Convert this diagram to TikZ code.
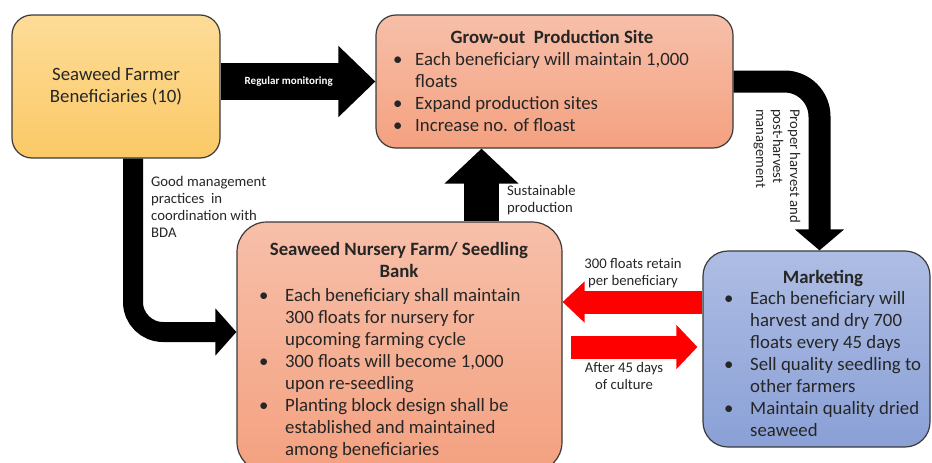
\documentclass[tikz,border=0pt]{standalone}
\usepackage{fontspec}
\setmainfont{Carlito}
\usetikzlibrary{arrows.meta,calc}

\definecolor{inkgray}{HTML}{262626}
\definecolor{boxline}{HTML}{3A3A3A}
\definecolor{farmerTop}{HTML}{FDDC98}
\definecolor{farmerBottom}{HTML}{FBC966}
\definecolor{salmonTop}{HTML}{F7BFA9}
\definecolor{salmonBottom}{HTML}{F4A180}
\definecolor{blueTop}{HTML}{AEBDE4}
\definecolor{blueBottom}{HTML}{8AA0D6}
\definecolor{flowred}{HTML}{FF0000}

\newcommand{\boxfont}{\fontsize{18.8}{22}\selectfont}
\newcommand{\notefont}{\fontsize{14.7}{17}\selectfont}

\tikzset{
  box/.style={draw=boxline, line width=1.2pt, rounded corners=#1, inner sep=0pt},
  boxtext/.style={font=\boxfont, text=inkgray, inner sep=0pt},
  notetext/.style={font=\notefont, text=inkgray, inner sep=0pt},
  blockarrow/.style={draw=black},
  redarrow/.style={draw=flowred}
}

\begin{document}
\begin{tikzpicture}[x=1pt, y=-1pt]
    \useasboundingbox (0,0) rectangle (932,463);

    \node [box=20pt, top color=farmerTop, bottom color=farmerBottom,
           minimum width=208pt, minimum height=143pt] (farmer) at (116,86.5) {};
    \node [box=20pt, top color=salmonTop, bottom color=salmonBottom,
           minimum width=357pt, minimum height=133pt] (growout) at (554.5,81.5) {};
    \node [box=30pt, top color=salmonTop, bottom color=salmonBottom,
           minimum width=325pt, minimum height=250pt] (nursery) at (399.5,347) {};
    \node [box=25pt, top color=blueTop, bottom color=blueBottom,
           minimum width=227pt, minimum height=196pt] (market) at (816.5,349) {};

    \node [boxtext, align=center] (farmerText) at (farmer) {Seaweed Farmer\\Beneficiaries (10)};

    \node [boxtext, font=\boxfont\bfseries, anchor=base] (growoutTitle) at (552,43) {Grow-out~ Production Site};
    \node [boxtext, anchor=base west] (growoutList) at (393,65) {\begin{tabular}[t]{@{}p{22pt}@{}l@{}}
      \textbullet & Each beneficiary will maintain 1,000\\
                  & floats\\
      \textbullet & Expand production sites\\
      \textbullet & Increase no. of floast
    \end{tabular}};

    \node [boxtext, font=\boxfont\bfseries, anchor=base] (nurseryTitle) at (399,255) {\begin{tabular}[t]{@{}c@{}}
      Seaweed Nursery Farm/ Seedling\\
      Bank
    \end{tabular}};
    \node [boxtext, anchor=base west] (nurseryList) at (259,301) {\begin{tabular}[t]{@{}p{26pt}@{}l@{}}
      \textbullet & Each beneficiary shall maintain\\
                  & 300 floats for nursery for\\
                  & upcoming farming cycle\\
      \textbullet & 300 floats will become 1,000\\
                  & upon re-seedling\\
      \textbullet & Planting block design shall be\\
                  & established and maintained\\
                  & among beneficiaries
    \end{tabular}};

    \node [boxtext, font=\boxfont\bfseries, anchor=base] (marketTitle) at (823,283) {Marketing};
    \node [boxtext, anchor=base west] (marketList) at (724,304) {\begin{tabular}[t]{@{}p{26pt}@{}l@{}}
      \textbullet & Each beneficiary will\\
                  & harvest and dry 700\\
                  & floats every 45 days\\
      \textbullet & Sell quality seedling to\\
                  & other farmers\\
      \textbullet & Maintain quality dried\\
                  & seaweed
    \end{tabular}};

    \draw [blockarrow, line width=37pt, -{Triangle[length=37pt,width=69pt]}]
        (farmer.east |- growout.west) -- node [pos=0.44, inner sep=0pt, text=white,
        font=\fontsize{11}{12}\selectfont\bfseries] (monitorLabel) {Regular monitoring} (growout.west);

    \draw [blockarrow, line width=20pt, rounded corners=30pt, -{Triangle[length=21pt,width=46pt]}]
        ([xshift=17pt]farmer.south) |- ([yshift=15pt]nursery.west);
    \node [notetext, anchor=base west] (practiceLabel) at (151,186) {\begin{tabular}[t]{@{}l@{}}
      Good management\\
      practices~ in\\
      coordination with\\
      BDA
    \end{tabular}};

    \draw [blockarrow, line width=35pt, -{Triangle[length=35pt,width=72pt]}]
        ([xshift=82pt]nursery.north) -- ([xshift=82pt]nursery.north |- growout.south);
    \node [notetext, anchor=base west] (sustainLabel) at (507,195) {\begin{tabular}[t]{@{}l@{}}
      Sustainable\\
      production
    \end{tabular}};

    \draw [blockarrow, line width=22pt, rounded corners=35pt, -{Triangle[length=21pt,width=48pt]}]
        (growout.east) -| ([xshift=3pt]market.north);
    \node [notetext, rotate=-90, align=left] (harvestLabel) at (777,166) {Proper harvest and\\post-harvest\\management};

    \draw [redarrow, line width=23pt, -{Triangle[length=22pt,width=40pt]}]
        ([yshift=47pt]market.west) -- ([yshift=47pt]market.west -| nursery.east);
    \node [notetext, anchor=base] (retainLabel) at (633,268) {\begin{tabular}[t]{@{}c@{}}
      300 floats retain\\
      per beneficiary
    \end{tabular}};

    \draw [redarrow, line width=23pt, -{Triangle[length=21pt,width=43pt]}]
        ([xshift=8pt]nursery.east) -- ([xshift=-5pt]market.west |- nursery.east);
    \node [notetext, anchor=base] (cultureLabel) at (624,372) {\begin{tabular}[t]{@{}c@{}}
      After 45 days\\
      of culture
    \end{tabular}};
\end{tikzpicture}
\end{document}
